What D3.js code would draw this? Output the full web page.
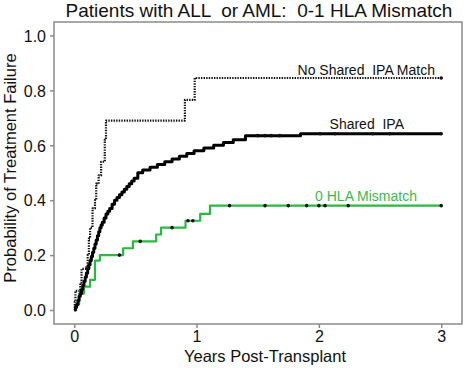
<!DOCTYPE html>
<html>
<head>
<meta charset="utf-8">
<script src="https://cdn.jsdelivr.net/npm/d3@7"></script>
<style>
  body { margin: 0; background: #fff; }
  svg { display: block; font-family: "Liberation Sans", Arial, sans-serif; }
  text { white-space: pre; }
</style>
</head>
<body>
<svg id="chart"></svg>
<script>
// step curves: time (years) at which probability jumps to the given value
const noSharedTimes = [0, 0.005, 0.01, 0.05, 0.06, 0.10, 0.11, 0.12, 0.13, 0.15, 0.17, 0.18, 0.20, 0.22, 0.25, 0.26, 0.905, 0.985, 3.0];
const noSharedProbs = [0, 0.03, 0.07, 0.10, 0.15, 0.16, 0.20, 0.26, 0.30, 0.37, 0.40, 0.46, 0.49, 0.54, 0.62, 0.69, 0.765, 0.845, 0.845];
const noSharedCensor = [3.0];

const sharedTimes = [0, 0.01, 0.02, 0.03, 0.04, 0.05, 0.06, 0.07, 0.08, 0.09, 0.10, 0.11, 0.12, 0.13, 0.14, 0.15, 0.16, 0.17, 0.18, 0.19, 0.20, 0.21, 0.22, 0.23, 0.245, 0.26, 0.275, 0.29, 0.31, 0.33, 0.35, 0.37, 0.39, 0.41, 0.43, 0.45, 0.47, 0.49, 0.52, 0.56, 0.62, 0.68, 0.74, 0.80, 0.86, 0.92, 0.98, 1.06, 1.14, 1.22, 1.30, 1.40, 1.85, 3.0];
const sharedProbs = [0, 0.01, 0.02, 0.035, 0.05, 0.06, 0.075, 0.09, 0.105, 0.12, 0.135, 0.15, 0.165, 0.18, 0.195, 0.21, 0.225, 0.24, 0.255, 0.27, 0.285, 0.30, 0.31, 0.32, 0.335, 0.35, 0.36, 0.37, 0.385, 0.40, 0.41, 0.42, 0.43, 0.44, 0.45, 0.46, 0.47, 0.48, 0.50, 0.51, 0.52, 0.53, 0.54, 0.55, 0.56, 0.57, 0.58, 0.59, 0.60, 0.61, 0.62, 0.635, 0.642, 0.642];
const sharedCensor = [1.50, 1.56, 1.61, 1.68, 2.01, 2.13, 2.44, 2.58, 3.0];

const hlaTimes = [0, 0.01, 0.04, 0.08, 0.13, 0.17, 0.21, 0.40, 0.48, 0.67, 0.71, 0.91, 1.03, 1.11, 3.0];
const hlaProbs = [0, 0.02, 0.06, 0.085, 0.11, 0.18, 0.20, 0.225, 0.25, 0.275, 0.30, 0.325, 0.35, 0.38, 0.38];
const hlaCensor = [0.37, 0.54, 0.80, 0.93, 0.97, 1.27, 1.56, 1.75, 1.90, 2.0, 2.05, 2.24, 3.0];

const xTicks = [0, 1, 2, 3];
const yTicks = [0, 0.2, 0.4, 0.6, 0.8, 1.0];

const width = 465, height = 368;
const green = "#26bb3c";
const axisGrey = "#8a8a8a";

const svg = d3.select("#chart").attr("width", width).attr("height", height);

const x = d3.scaleLinear().domain([-0.165, 3.17]).range([54, 462]);
const y = d3.scaleLinear().domain([-0.051, 1.049]).range([324, 22]);

// frame
svg.append("rect")
  .attr("x", x.range()[0]).attr("y", y.range()[1])
  .attr("width", x.range()[1] - x.range()[0])
  .attr("height", y.range()[0] - y.range()[1])
  .attr("fill", "none").attr("stroke", axisGrey).attr("stroke-width", 1.5);

const xAxis = svg.append("g")
  .attr("transform", "translate(0," + y.range()[0] + ")")
  .call(d3.axisBottom(x).tickValues(xTicks).tickFormat(d3.format("d")).tickSize(4).tickSizeOuter(0));

const yAxis = svg.append("g")
  .attr("transform", "translate(" + x.range()[0] + ",0)")
  .call(d3.axisLeft(y).tickValues(yTicks).tickFormat(d3.format(".1f")).tickSize(4).tickSizeOuter(0));

[xAxis, yAxis].forEach(g => {
  g.select(".domain").remove();
  g.selectAll(".tick line").attr("stroke", axisGrey).attr("stroke-width", 1.5);
  g.selectAll(".tick text").attr("fill", "#111").style("font-size", "16px");
});
yAxis.selectAll(".tick text").attr("dx", "-1px").attr("dy", "0.36em");

const line = d3.line().curve(d3.curveStepAfter).x(d => x(d[0])).y(d => y(d[1]));

function drawCurve(times, probs, censor, style) {
  const pts = times.map((t, i) => [t, probs[i]]);
  svg.append("path")
    .datum(pts)
    .attr("d", line)
    .attr("fill", "none")
    .attr("stroke", style.color)
    .attr("stroke-width", style.width)
    .attr("stroke-linejoin", "round")
    .attr("stroke-dasharray", style.dash || null);
  const probAt = t => {
    let p = probs[0];
    times.forEach((tt, i) => { if (tt <= t) p = probs[i]; });
    return p;
  };
  svg.append("g").selectAll("circle")
    .data(censor)
    .enter()
    .append("circle")
    .attr("cx", d => x(d))
    .attr("cy", d => y(probAt(d)))
    .attr("r", 1.8)
    .attr("fill", "#111");
}

drawCurve(hlaTimes, hlaProbs, hlaCensor, { color: green, width: 2.2 });
drawCurve(noSharedTimes, noSharedProbs, noSharedCensor, { color: "#111", width: 2.2, dash: "1.4,1.2" });
drawCurve(sharedTimes, sharedProbs, sharedCensor, { color: "#000", width: 3 });

// curve labels
svg.append("text").attr("x", 435).attr("y", 75).attr("text-anchor", "end")
  .style("font-size", "14px").attr("fill", "#111").text("No Shared  IPA Match");
svg.append("text").attr("x", 404).attr("y", 129).attr("text-anchor", "end")
  .style("font-size", "14px").attr("fill", "#111").text("Shared  IPA");
svg.append("text").attr("x", 417).attr("y", 201).attr("text-anchor", "end")
  .style("font-size", "14px").attr("fill", "#3db84f").text("0 HLA Mismatch");

// titles
svg.append("text").attr("x", 259).attr("y", 17).attr("text-anchor", "middle")
  .style("font-size", "19px").attr("fill", "#111").text("Patients with ALL  or AML:  0-1 HLA Mismatch");

svg.append("text").attr("x", 265).attr("y", 362).attr("text-anchor", "middle")
  .style("font-size", "16.5px").attr("fill", "#111").text("Years Post-Transplant");

svg.append("text").attr("transform", "rotate(-90)")
  .attr("x", -168).attr("y", 16).attr("text-anchor", "middle")
  .style("font-size", "16.5px").attr("fill", "#111").text("Probability of Treatment Failure");
</script>
</body>
</html>
